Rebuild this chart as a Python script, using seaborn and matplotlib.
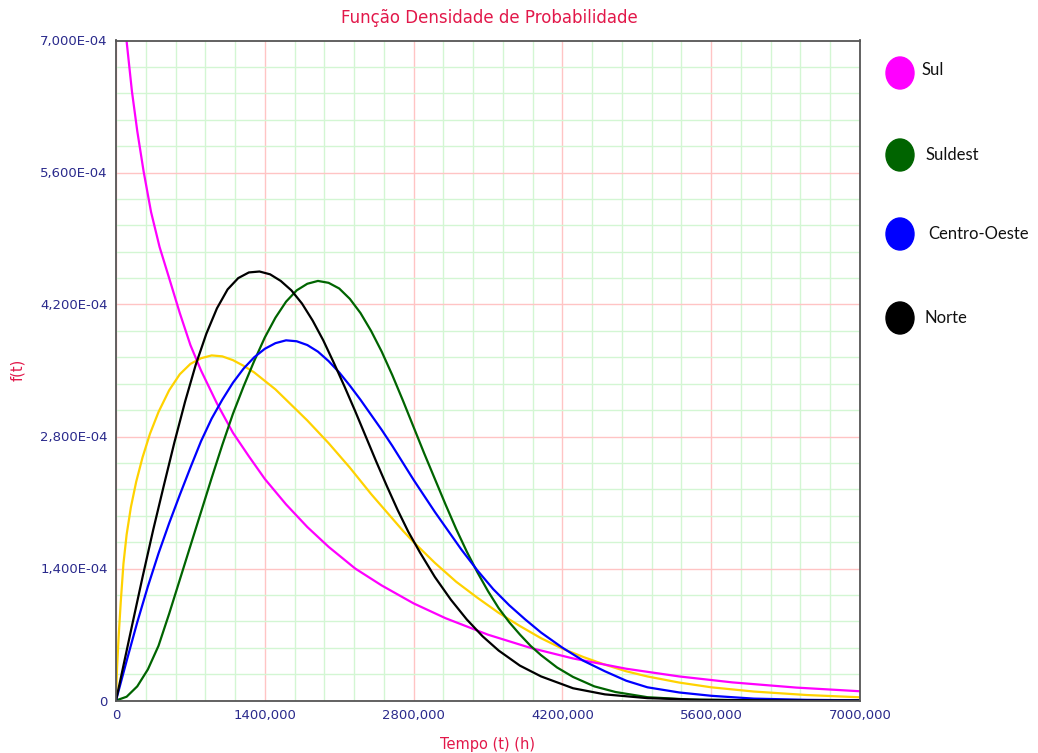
import numpy as np
import pandas as pd
import matplotlib
matplotlib.use("Agg")
import matplotlib.pyplot as plt
from matplotlib.patches import Ellipse
from matplotlib.ticker import FixedLocator, MultipleLocator, FuncFormatter
import seaborn as sns

# valores (f(t) em unidades de 1E-04)
sul_t = [100, 150, 200, 260, 330, 410, 500, 600, 700, 800, 950, 1100, 1250, 1400, 1600, 1800, 2000,
         2250, 2500, 2800, 3100, 3500, 3900, 4300, 4800, 5300, 5800, 6400, 7000]
sul_f = [6.99, 6.46, 6.04, 5.61, 5.18, 4.81, 4.48, 4.11, 3.77, 3.50, 3.15, 2.84, 2.59, 2.35, 2.08, 1.84, 1.63,
         1.40, 1.22, 1.03, 0.873, 0.698, 0.558, 0.446, 0.337, 0.255, 0.192, 0.137, 0.098]

suldest_t = [0, 100, 200, 300, 400, 500, 600, 700, 800, 900, 1000, 1100, 1200, 1300, 1400, 1500, 1600,
             1700, 1800, 1900, 2000, 2100, 2200, 2300, 2400, 2500, 2600, 2700, 2800, 2900, 3000, 3100,
             3200, 3300, 3400, 3500, 3600, 3700, 3800, 3900, 4000, 4150, 4300, 4500, 4700, 5000, 5400,
             6000, 7000]
suldest_f = [0, 0.04, 0.15, 0.33, 0.58, 0.92, 1.28, 1.64, 2.00, 2.36, 2.71, 3.04, 3.33, 3.60, 3.85, 4.06,
             4.23, 4.35, 4.42, 4.45, 4.43, 4.37, 4.26, 4.11, 3.92, 3.70, 3.45, 3.18, 2.90, 2.62, 2.35, 2.08,
             1.82, 1.58, 1.36, 1.16, 0.98, 0.83, 0.70, 0.58, 0.48, 0.35, 0.25, 0.15, 0.09, 0.035, 0.01,
             0.002, 0]

centro_t = [0, 100, 200, 300, 400, 500, 600, 700, 800, 900, 1000, 1100, 1200, 1300, 1400, 1500, 1600,
            1700, 1800, 1900, 2000, 2100, 2200, 2300, 2400, 2500, 2600, 2700, 2800, 2900, 3000, 3100,
            3250, 3400, 3550, 3700, 3850, 4000, 4200, 4400, 4600, 4800, 5000, 5300, 5600, 6000, 6500, 7000]
centro_f = [0, 0.42, 0.83, 1.21, 1.56, 1.88, 2.18, 2.47, 2.75, 2.99, 3.19, 3.37, 3.52, 3.64, 3.73, 3.79,
            3.82, 3.81, 3.77, 3.70, 3.60, 3.48, 3.34, 3.19, 3.03, 2.87, 2.70, 2.52, 2.34, 2.17, 2.00, 1.84,
            1.60, 1.38, 1.18, 1.01, 0.86, 0.72, 0.56, 0.42, 0.31, 0.21, 0.14, 0.085, 0.05, 0.02, 0.007, 0.002]

norte_t = [0, 70, 150, 250, 350, 450, 550, 650, 750, 850, 950, 1050, 1150, 1250, 1350, 1450, 1550, 1650,
           1750, 1850, 1950, 2050, 2150, 2250, 2350, 2450, 2550, 2650, 2750, 2860, 3000, 3150, 3300,
           3450, 3600, 3800, 4000, 4300, 4600, 5000, 5500, 6200, 7000]
norte_f = [0, 0.37, 0.79, 1.31, 1.81, 2.28, 2.74, 3.17, 3.56, 3.89, 4.16, 4.36, 4.48, 4.54, 4.55, 4.52,
           4.45, 4.35, 4.21, 4.03, 3.82, 3.58, 3.33, 3.07, 2.80, 2.53, 2.27, 2.02, 1.79, 1.57, 1.31, 1.07,
           0.86, 0.68, 0.53, 0.37, 0.255, 0.13, 0.065, 0.025, 0.007, 0.001, 0]

# curva amarela (sem entrada na legenda)
amarela_t = [0, 10, 25, 45, 70, 100, 140, 190, 250, 320, 400, 500, 600, 700, 800, 900, 1000, 1100, 1200,
             1300, 1400, 1500, 1600, 1700, 1800, 1900, 2000, 2100, 2200, 2300, 2400, 2500, 2600, 2700,
             2800, 2900, 3000, 3200, 3400, 3600, 3800, 4000, 4200, 4400, 4600, 4800, 5000, 5300, 5600,
             6000, 6500, 7000]
amarela_f = [0, 0.35, 0.68, 1.05, 1.45, 1.76, 2.05, 2.32, 2.58, 2.83, 3.06, 3.29, 3.46, 3.57, 3.63, 3.66,
             3.65, 3.61, 3.55, 3.48, 3.39, 3.30, 3.19, 3.08, 2.97, 2.85, 2.73, 2.60, 2.47, 2.33, 2.19, 2.06,
             1.93, 1.80, 1.68, 1.57, 1.46, 1.26, 1.09, 0.93, 0.79, 0.66, 0.55, 0.46, 0.38, 0.31, 0.255,
             0.19, 0.14, 0.095, 0.058, 0.034]

legenda = ["Sul", "Suldest", "Centro-Oeste", "Norte"]
cores = {"Sul": "#ff00ff", "Suldest": "#006400", "Centro-Oeste": "#0000ff",
         "Norte": "#000000", "amarela": "#ffd200"}

x_ticks = [0, 1400, 2800, 4200, 5600, 7000]
y_ticks = [0, 1.4e-4, 2.8e-4, 4.2e-4, 5.6e-4, 7.0e-4]

series = [("amarela", amarela_t, amarela_f), ("Sul", sul_t, sul_f), ("Suldest", suldest_t, suldest_f),
          ("Centro-Oeste", centro_t, centro_f), ("Norte", norte_t, norte_f)]
df = pd.concat([pd.DataFrame({"t": t, "f": np.array(f) * 1e-4, "serie": nome}) for nome, t, f in series],
               ignore_index=True)

sns.set_style("white")
plt.rcParams["font.family"] = ["DejaVu Sans"]

vermelho = "#e2184a"
azul_txt = "#2a2a8c"

fig = plt.figure(figsize=(10.38, 7.53), dpi=100)
ax = fig.add_axes([116 / 1038, 1 - 700.5 / 753, 744 / 1038, 660 / 753])

ax.set_xlim(0, 7000)
ax.set_ylim(0, 7e-4)
ax.xaxis.set_major_locator(FixedLocator(x_ticks))
ax.yaxis.set_major_locator(FixedLocator(y_ticks))
ax.xaxis.set_minor_locator(MultipleLocator(280))
ax.yaxis.set_minor_locator(MultipleLocator(0.28e-4))
ax.grid(which="minor", color="#d3f6d3", linewidth=1.0, zorder=0)
ax.grid(which="major", color="#ffc4c4", linewidth=1.0, zorder=0)
ax.set_axisbelow(True)

sns.lineplot(data=df, x="t", y="f", hue="serie", palette=cores, legend=False,
             linewidth=1.6, ax=ax, estimator=None)

def fmt_y(v, pos):
    if abs(v) < 1e-12:
        return "0"
    return f"{v / 1e-4:.3f}".replace(".", ",") + "E-04"

def fmt_x(v, pos):
    if v == 0:
        return "0"
    return f"{v:.3f}".replace(".", ",")

ax.yaxis.set_major_formatter(FuncFormatter(fmt_y))
ax.xaxis.set_major_formatter(FuncFormatter(fmt_x))
ax.tick_params(axis="both", which="major", length=4, width=1, color="#555555",
               labelsize=9.5, labelcolor=azul_txt, pad=2)
ax.tick_params(which="minor", length=0)
ax.set_xlabel("")
ax.set_ylabel("")

for s in ax.spines.values():
    s.set_color("#555555")
    s.set_linewidth(1.3)

fig.text(488 / 1038, 1 - 744 / 753, "Tempo (t) (h)", color=vermelho, fontsize=10.5,
         ha="center", va="center")
fig.text(18 / 1038, 1 - 370 / 753, "f(t)", color=vermelho, fontsize=10.5,
         ha="center", va="center", rotation=90)
fig.text(489 / 1038, 1 - 18 / 753, "Função Densidade de Probabilidade", color=vermelho,
         fontsize=12, ha="center", va="center")

# legenda desenhada a mao, circulos a direita
leg_y = [73, 155, 234, 318]
leg_tx = [921, 926, 928, 925]
for nome, y, tx in zip(legenda, leg_y, leg_tx):
    fig.add_artist(Ellipse((900 / 1038, 1 - y / 753), 28 / 1038, 32 / 753,
                           transform=fig.transFigure, color=cores[nome]))
    fig.text(tx / 1038, 1 - (y - 3 if nome == "Sul" else y) / 753, nome, fontsize=12,
             family=["Lato", "DejaVu Sans"], color="#111111", ha="left", va="center")

fig.savefig("out.png", dpi=100)
